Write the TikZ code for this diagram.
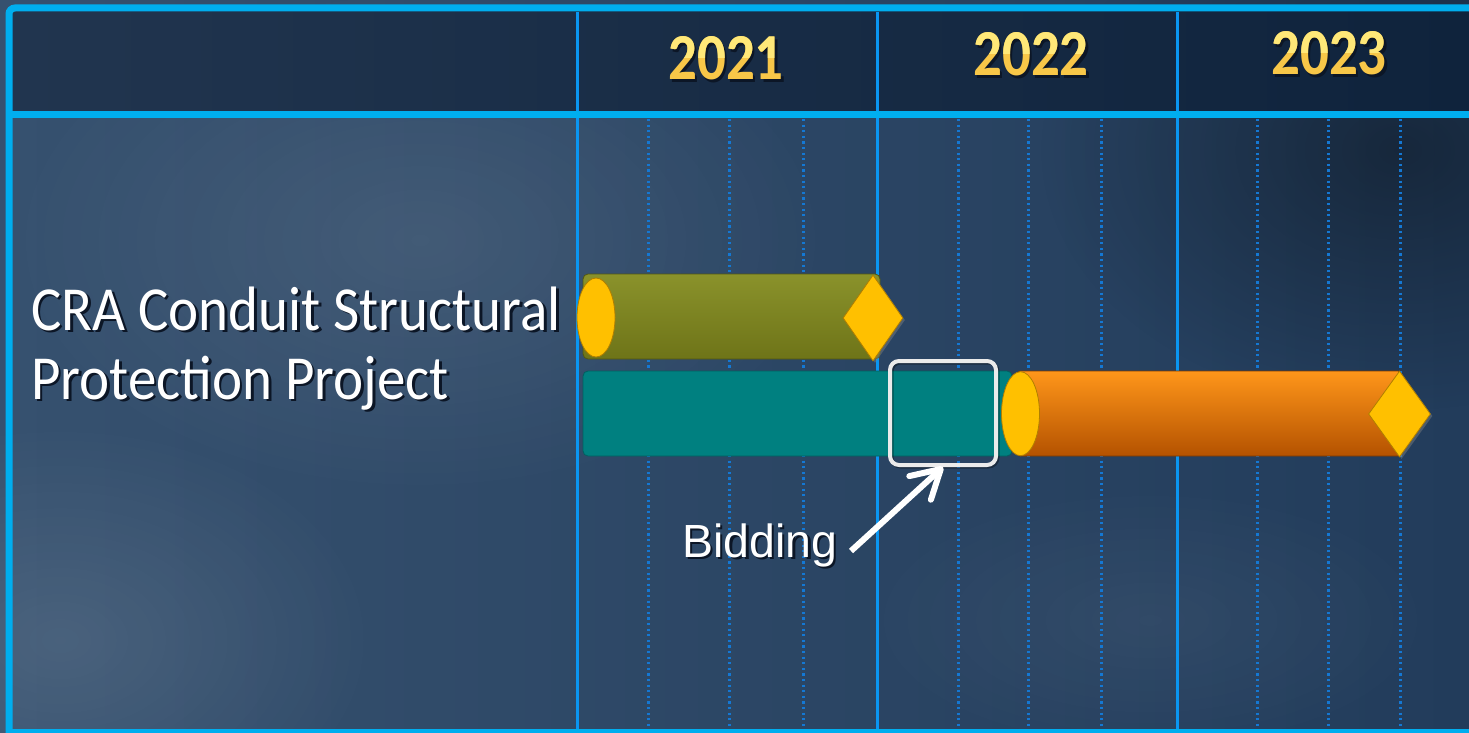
\documentclass[tikz,border=0pt]{standalone}
\usepackage{fontspec}
\newfontfamily\calfont{Carlito}
\newfontfamily\arialfont{Liberation Sans}
\usetikzlibrary{shapes.geometric,arrows.meta,shadows,fadings}

\definecolor{bgL}{HTML}{36516F}
\definecolor{bgM}{HTML}{2D4765}
\definecolor{bgR}{HTML}{223C5B}
\definecolor{hdL}{HTML}{21354F}
\definecolor{hdM}{HTML}{0B182A}
\definecolor{hdR}{HTML}{0F233C}
\definecolor{framecyan}{HTML}{00AEEF}
\definecolor{yearblue}{HTML}{0A96F2}
\definecolor{quarterblue}{HTML}{1478D4}
\definecolor{oliveTop}{HTML}{8A922B}
\definecolor{oliveMid}{HTML}{7F8621}
\definecolor{oliveBot}{HTML}{6E7418}
\definecolor{tealbar}{HTML}{008080}
\definecolor{orangeTop}{HTML}{FF961A}
\definecolor{orangeMid}{HTML}{F27A00}
\definecolor{orangeBot}{HTML}{B45200}
\definecolor{gold}{HTML}{FFC000}
\definecolor{goldEdge}{HTML}{B07E00}
\definecolor{yearTop}{HTML}{FFE878}
\definecolor{yearBot}{HTML}{F8C748}
\definecolor{boxgray}{HTML}{EBEBEB}
\definecolor{textshade}{HTML}{0C1626}

\tikzfading[name=softglow,inner color=transparent!0,outer color=transparent!100]

% text with a dark offset copy behind it
\newcommand{\shadowedtext}[1]{\makebox[0pt][l]{\hspace*{2.5pt}\raisebox{-2.5pt}{\textcolor{textshade}{#1}}}#1}

\begin{document}
\begin{tikzpicture}[x=1pt,y=-1pt,
  frameline/.style={draw=framecyan,line width=7pt},
  yearline/.style={draw=yearblue,line width=3pt},
  quarterline/.style={draw=quarterblue,line width=2.2pt,dash pattern=on 2.2pt off 3.4pt},
  barbox/.style={rectangle,rounded corners=5pt,inner sep=0pt,minimum height=85pt},
  olivebar/.style={barbox,shade,top color=oliveTop,middle color=oliveMid,bottom color=oliveBot,draw=oliveBot!75!black,line width=0.8pt},
  tealbarstyle/.style={barbox,fill=tealbar,draw=tealbar!75!black,line width=0.8pt},
  orangebar/.style={barbox,rounded corners=2pt,shade,top color=orangeTop,middle color=orangeMid,bottom color=orangeBot,draw=orangeBot!70!black,line width=0.8pt},
  startmark/.style={ellipse,inner sep=0pt,fill=gold,draw=goldEdge,line width=0.8pt,minimum width=38pt},
  endmark/.style={diamond,inner sep=0pt,fill=gold,draw=goldEdge,line width=0.8pt,
    drop shadow={shadow xshift=2pt,shadow yshift=-2pt,opacity=0.45}},
  yearlabel/.style={font=\calfont\bfseries\fontsize{57}{57}\selectfont,inner sep=0pt,anchor=base},
  projlabel/.style={font=\calfont\fontsize{57}{68}\selectfont,inner sep=0pt,anchor=base west,text=white},
  notelabel/.style={font=\arialfont\fontsize{46.5}{50}\selectfont,inner sep=0pt,anchor=base west,text=white},
]
\useasboundingbox (0,0) rectangle (1469,733);

% background and soft lighting
\shade[left color=bgL,middle color=bgM,right color=bgR] (0,0) rectangle (1469,733);
\fill[white,opacity=0.09,path fading=softglow] (420,240) ellipse (420 and 260);
\fill[white,opacity=0.10,path fading=softglow] (60,640) ellipse (320 and 220);
\fill[white,opacity=0.05,path fading=softglow] (1150,620) ellipse (300 and 140);
\fill[black,opacity=0.35,path fading=softglow] (1400,150) ellipse (360 and 260);
\shade[left color=hdL,middle color=hdM,right color=hdR] (9,8) rectangle (1469,115);

% quarter grid
\foreach \qx in {648.5,729.5,803.5,958.5,1028.5,1101.5,1257.5,1328.5,1400.5}
  \draw[quarterline] (\qx,119) -- (\qx,733);

% year grid
\foreach \yx in {577.5,877.5,1177.5}
  \draw[yearline] (\yx,12) -- (\yx,733);

% table frame
\draw[frameline,rounded corners=6pt] (9,733) -- (9,8) -- (1475,8);
\draw[frameline] (9,115) -- (1475,115);
\draw[frameline] (9,732) -- (1475,732);

% year headings: deep yellow, lighter in the upper half
\foreach \yr/\cx/\by in {2021/726/80,2022/1031/75.5,2023/1329/74.5}{
  \node[yearlabel,text=yearBot] (yr\yr) at (\cx,\by) {\scalebox{1}[1.15]{\shadowedtext{\yr}}};
  \pgfmathsetmacro{\cliptop}{\by-50}
  \pgfmathsetmacro{\clipbot}{\by-22}
  \begin{scope}
    \clip (\cx-80,\cliptop) rectangle (\cx+80,\clipbot);
    \node[yearlabel,text=yearTop] (yr\yr light) at (\cx,\by) {\scalebox{1}[1.15]{\yr}};
  \end{scope}
}

% bars
\node[olivebar,minimum width=297pt] (designbar) at (731.5,316.5) {};
\node[startmark,minimum height=79pt] (designstart) at (596,317.5) {};
\node[endmark,minimum width=60pt,minimum height=86pt] (designend) at (873,318) {};

\node[tealbarstyle,minimum width=429pt] (permitbar) at (797.5,413.5) {};
\node[orangebar,minimum width=382pt] (buildbar) at (1209,413.5) {};
\node[startmark,minimum height=84pt] (buildstart) at (1020.5,413.7) {};
\node[endmark,minimum width=62pt,minimum height=86pt] (buildend) at (1399.5,414) {};

% bidding window
\node[rectangle,rounded corners=9pt,draw=black,opacity=0.35,line width=4pt,minimum width=106pt,minimum height=104pt] (bidboxshade) at (944.5,414.5) {};
\node[rectangle,rounded corners=9pt,draw=boxgray,line width=4pt,minimum width=106pt,minimum height=104pt] (bidbox) at (943,413) {};

% labels
\node[projlabel] (proj1) at (31,330) {\scalebox{1}[1.1]{\shadowedtext{CRA Conduit Structural}}};
\node[projlabel] (proj2) at (31,399) {\scalebox{1}[1.1]{\shadowedtext{Protection Project}}};

\node[notelabel] (bidlabel) at (682,557) {\shadowedtext{Bidding}};

\coordinate (bidtail) at (851,551);
\draw[white,line width=6pt,-{Straight Barb[length=28pt,width=32pt,round]}] (bidtail) -- (bidbox.south);
\end{tikzpicture}
\end{document}
